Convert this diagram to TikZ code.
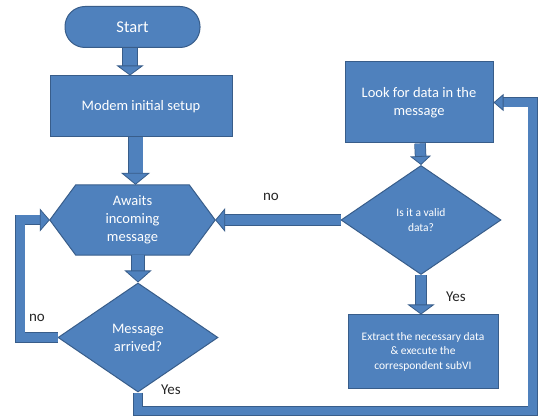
\documentclass[tikz,border=0pt]{standalone}
\usepackage{fontspec}
\setmainfont{Carlito}
\usetikzlibrary{arrows.meta,shapes.geometric,calc}
\definecolor{bblue}{HTML}{4F81BD}
\definecolor{bdark}{HTML}{385D8A}
\definecolor{lblcol}{HTML}{262626}
\pgfdeclarelayer{background}
\pgfsetlayers{background,main}
\newcommand\bigfnt{\fontsize{14.5}{18}\selectfont}
\newcommand\smallfnt{\fontsize{11.5}{14.5}\selectfont}
% #1 outer width, #2 inner width, #3 head width, #4 head length, #5 shorten, #6 path
\newcommand\blockarrow[6]{%
  \draw[line width=#1, draw=bdark, line join=miter, shorten >=#5] #6;
  \draw[line width=#2, draw=bblue, line join=miter,
        -{Triangle[width=#3,length=#4,line width=0.8pt,color=bdark,fill=bblue]}] #6;
}
\begin{document}
\begin{tikzpicture}[x=1pt,y=-1pt,
  shapebox/.style={fill=bblue, draw=bdark, line width=1pt, text=white, align=center, inner sep=0pt},
  procbox/.style={shapebox, rectangle},
  decbox/.style={shapebox, diamond},
  hexbox/.style={inner sep=0pt, text=white, align=center},
  hexfill/.style={fill=bblue, draw=bdark, line width=1pt, line join=miter},
  lbl/.style={text=lblcol, font=\fontsize{15}{18}\selectfont, inner sep=0pt},
 ]
\useasboundingbox (0,0) rectangle (538,419);

\node[shapebox, rounded corners=20pt, minimum width=135pt, minimum height=41pt,
      font=\fontsize{16.5}{20}\selectfont] (start) at (132.5,27) {Start};
\node[procbox, minimum width=182pt, minimum height=61pt, font=\bigfnt] (setup) at (141,106.5) {Modem initial setup};
\node[hexbox, minimum width=165pt, minimum height=70pt, font=\bigfnt] (wait) at (132.5,220) {Awaits\\incoming\\message};
\begin{pgfonlayer}{background}
  \draw[hexfill] (wait.west) -- ([xshift=26pt]wait.north west) -- ([xshift=-26pt]wait.north east)
     -- (wait.east) -- ([xshift=-26pt]wait.south east) -- ([xshift=26pt]wait.south west) -- cycle;
\end{pgfonlayer}
\node[decbox, minimum width=160pt, minimum height=109pt, font=\bigfnt] (arrived) at (138,337.5) {Message\\arrived?};
\node[procbox, minimum width=148pt, minimum height=81pt, font=\bigfnt] (look) at (419,102.5) {Look for data in the\\message};
\node[decbox, minimum width=160pt, minimum height=109pt, font=\smallfnt] (valid) at (421,220) {Is it a valid\\data?};
\node[procbox, minimum width=150pt, minimum height=73pt, font=\smallfnt] (extract) at (423,351.5) {Extract the necessary data\\\& execute the\\correspondent subVI};

\coordinate (nl) at (20,220);
\coordinate (yr) at (532.5,411);

\blockarrow{15.5pt}{14pt}{27pt}{10pt}{7pt}{([xshift=-2.5pt]start.south) -- ([xshift=-11pt]setup.north)}
\blockarrow{15.5pt}{14pt}{29pt}{12pt}{9pt}{([xshift=-5.5pt]setup.south) -- ([xshift=3pt]wait.north)}
\blockarrow{13.5pt}{12pt}{27pt}{12pt}{9pt}{([xshift=5.5pt]wait.south) -- (arrived.north)}
\blockarrow{11.5pt}{10pt}{21pt}{9pt}{6pt}{([xshift=1pt]look.south) -- (valid.north)}
\blockarrow{11.5pt}{10pt}{27pt}{10pt}{7pt}{(valid.south) -- ([xshift=-2pt]extract.north)}
\blockarrow{11.5pt}{10pt}{24pt}{10pt}{7pt}{(valid.west) -- (wait.east)}
\blockarrow{10.5pt}{9pt}{23pt}{10pt}{7pt}{(arrived.west) -| (nl) -- (wait.west)}
\blockarrow{10pt}{8.5pt}{17pt}{10pt}{7pt}{(arrived.south) |- (yr) |- (look.east)}

\node[lbl] (lno1) at (37,318) {no};
\node[lbl] (lno2) at (271,197) {no};
\node[lbl] (lyes1) at (171,390) {Yes};
\node[lbl] (lyes2) at (456,297) {Yes};
\end{tikzpicture}
\end{document}
